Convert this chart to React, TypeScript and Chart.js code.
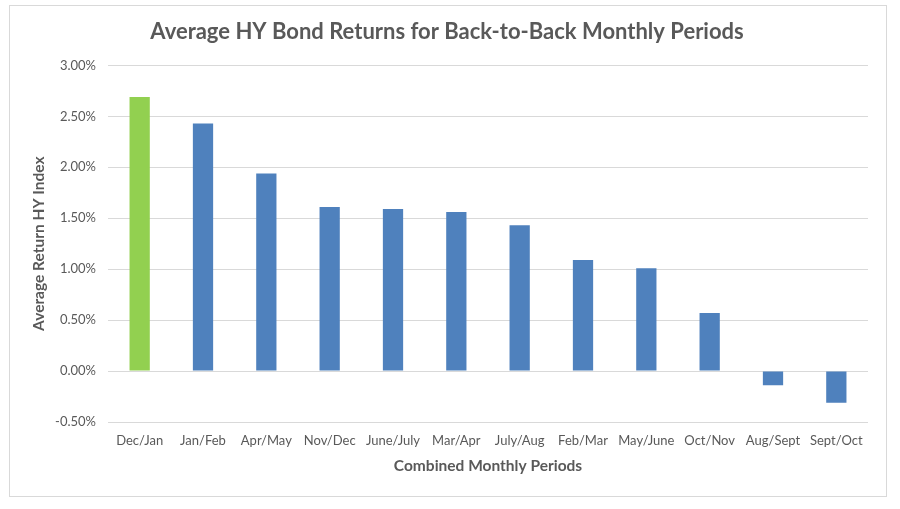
import React, { useEffect, useRef } from "react";
import { Chart, registerables } from "chart.js";

Chart.register(...registerables);

const categories = [
  "Dec/Jan", "Jan/Feb", "Apr/May", "Nov/Dec", "June/July", "Mar/Apr",
  "July/Aug", "Feb/Mar", "May/June", "Oct/Nov", "Aug/Sept", "Sept/Oct",
];
const returnsPct = [2.69, 2.43, 1.94, 1.61, 1.59, 1.56, 1.43, 1.09, 1.01, 0.57, -0.14, -0.31];
const barColors = [
  "#92D050", "#4F81BD", "#4F81BD", "#4F81BD", "#4F81BD", "#4F81BD",
  "#4F81BD", "#4F81BD", "#4F81BD", "#4F81BD", "#4F81BD", "#4F81BD",
];
const titleText = "Average HY Bond Returns for Back-to-Back Monthly Periods";
const xTitle = "Combined Monthly Periods";
const yTitle = "Average Return HY Index";

const FONT = "Lato, 'Open Sans', sans-serif";

export default function App() {
  const ref = useRef<HTMLCanvasElement | null>(null);
  useEffect(() => {
    if (!ref.current) return;
    const chart = new Chart(ref.current, {
      type: "bar",
      data: {
        labels: categories,
        datasets: [
          {
            data: returnsPct,
            backgroundColor: barColors,
            barPercentage: 0.32,
            categoryPercentage: 1,
          },
        ],
      },
      options: {
        animation: false,
        responsive: false,
        maintainAspectRatio: false,
        layout: { padding: { left: 26, right: 32, top: 0, bottom: 34 } },
        plugins: {
          legend: { display: false },
          tooltip: { enabled: false },
          title: {
            display: true,
            text: titleText,
            color: "#595959",
            font: { family: FONT, size: 22, weight: "bold" },
            padding: { top: 19, bottom: 20 },
          },
        },
        scales: {
          x: {
            grid: { display: false, drawTicks: false },
            border: { display: false },
            ticks: { color: "#595959", font: { family: FONT, size: 13 }, padding: 11, maxRotation: 0, autoSkip: false },
            title: { display: true, text: xTitle, color: "#595959", font: { family: FONT, size: 15.5, weight: "bold" }, padding: { top: 4, bottom: 0 } },
            afterFit: (s: any) => { s.height = 53; },
          },
          y: {
            min: -0.5,
            max: 3.0,
            grid: { color: "#D9D9D9", drawTicks: false, lineWidth: 1 },
            border: { display: false },
            ticks: {
              stepSize: 0.5,
              color: "#595959",
              font: { family: FONT, size: 13 },
              padding: 12,
              callback: (v: any) => Number(v).toFixed(2) + "%",
            },
            title: { display: true, text: yTitle, color: "#595959", font: { family: FONT, size: 15.5, weight: "bold" } },
            afterFit: (s: any) => { s.width = 82; },
          },
        },
      },
    });
    return () => chart.destroy();
  }, []);
  return (
    <div style={{ position: "absolute", left: 0, top: 0, width: 900, height: 509, background: "#fff" }}>
      <div style={{ position: "absolute", left: 9, top: 5, width: 876, height: 490, border: "1px solid #D9D9D9" }} />
      <canvas ref={ref} width={900} height={509} style={{ position: "absolute", left: 0, top: 0 }} />
    </div>
  );
}
